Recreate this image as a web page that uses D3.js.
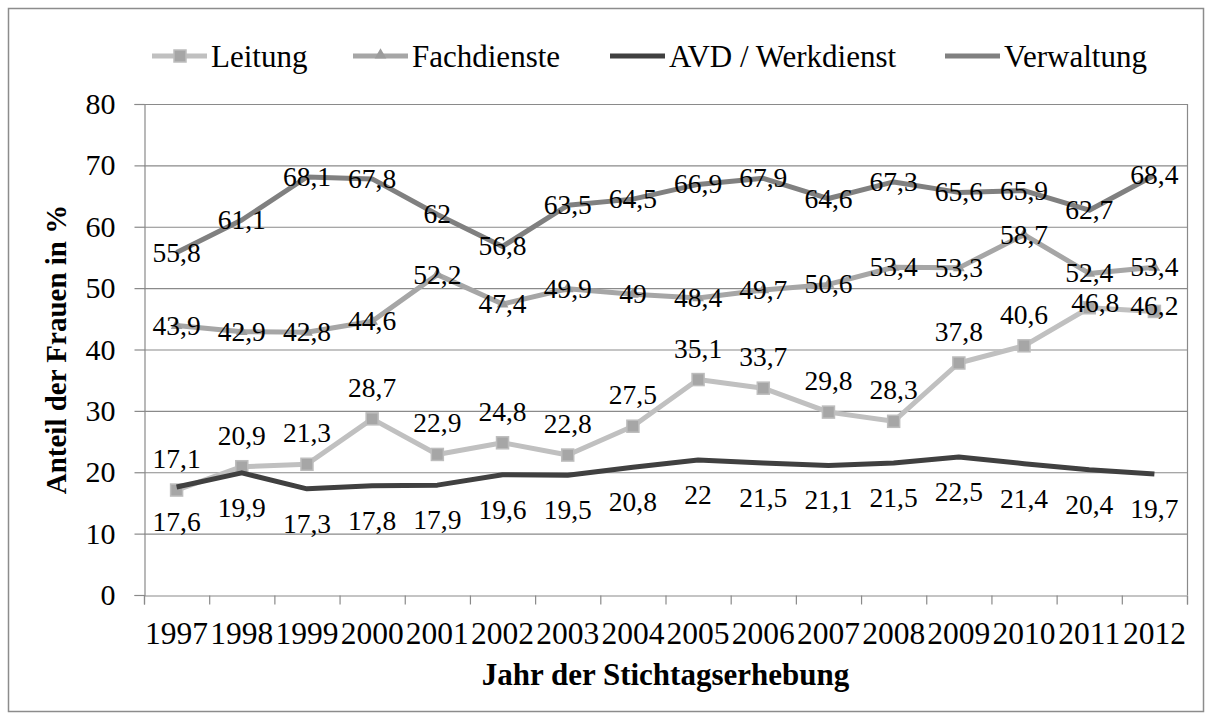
<!DOCTYPE html>
<html>
<head>
<meta charset="utf-8">
<script src="https://cdn.jsdelivr.net/npm/d3@7"></script>
<style>
  body { margin: 0; background: #fff; }
  svg text { font-family: "Times New Roman", "Liberation Serif", Tinos, "DejaVu Serif", serif !important; }
</style>
</head>
<body>
<svg id="chart" width="1212" height="720"></svg>
<script>
// data
var years = ["1997", "1998", "1999", "2000", "2001", "2002", "2003", "2004",
             "2005", "2006", "2007", "2008", "2009", "2010", "2011", "2012"]
var leitung = [17.1, 20.9, 21.3, 28.7, 22.9, 24.8, 22.8, 27.5, 35.1, 33.7, 29.8, 28.3, 37.8, 40.6, 46.8, 46.2]
var fachdienste = [43.9, 42.9, 42.8, 44.6, 52.2, 47.4, 49.9, 49, 48.4, 49.7, 50.6, 53.4, 53.3, 58.7, 52.4, 53.4]
var avd = [17.6, 19.9, 17.3, 17.8, 17.9, 19.6, 19.5, 20.8, 22, 21.5, 21.1, 21.5, 22.5, 21.4, 20.4, 19.7]
var verwaltung = [55.8, 61.1, 68.1, 67.8, 62, 56.8, 63.5, 64.5, 66.9, 67.9, 64.6, 67.3, 65.6, 65.9, 62.7, 68.4]
var yTicks = [0, 10, 20, 30, 40, 50, 60, 70, 80]

var series = [
    {name: "Leitung", values: leitung, color: "#c0c0c0", marker: "square", label: "above"},
    {name: "Fachdienste", values: fachdienste, color: "#a6a6a6", marker: "triangle", label: "center"},
    {name: "AVD / Werkdienst", values: avd, color: "#404040", marker: null, label: "below"},
    {name: "Verwaltung", values: verwaltung, color: "#808080", marker: null, label: "center"}
]

var svg = d3.select("#chart"),
    plot = {left: 144, right: 1187, top: 104, bottom: 595}

svg.append("rect")
    .attr("x", 8.5).attr("y", 8.5)
    .attr("width", 1195).attr("height", 703)
    .attr("fill", "#fff")
    .attr("stroke", "#8c8c8c")
    .attr("stroke-width", 1.5)

var x = d3.scaleBand().domain(years).range([plot.left, plot.right])
var xEdge = d3.scaleLinear().domain([0, years.length]).range([plot.left, plot.right])
var y = d3.scaleLinear().domain([0, 80]).range([plot.bottom, plot.top])
var cx = function (i) { return x(years[i]) + x.bandwidth() / 2 }

// grid
svg.append("g")
    .selectAll("line")
    .data(yTicks.filter(function (d) { return d > 0 }))
    .enter().append("line")
    .attr("x1", plot.left).attr("x2", plot.right)
    .attr("y1", function (d) { return y(d) + 0.5 })
    .attr("y2", function (d) { return y(d) + 0.5 })
    .attr("stroke", "#8a8a8a")
    .attr("stroke-width", 1.2)

svg.append("line")
    .attr("x1", plot.right + 0.5).attr("x2", plot.right + 0.5)
    .attr("y1", plot.top).attr("y2", plot.bottom)
    .attr("stroke", "#8a8a8a")
    .attr("stroke-width", 1.2)

// y axis
var yAxis = svg.append("g")
    .attr("transform", "translate(" + (plot.left + 0.5) + ",0)")
    .call(d3.axisLeft(y).tickValues(yTicks).tickSize(10).tickPadding(19))
yAxis.selectAll("text")
    .attr("font-size", 30)
    .attr("fill", "#000")

// x axis: tick marks between categories, labels centred
svg.append("g")
    .attr("transform", "translate(0," + (plot.bottom + 0.5) + ")")
    .call(d3.axisBottom(xEdge).tickValues(d3.range(years.length + 1)).tickSize(9).tickFormat(""))
var xLabelAxis = svg.append("g")
    .attr("transform", "translate(0," + (plot.bottom + 0.5) + ")")
    .call(d3.axisBottom(x).tickSize(0).tickPadding(26))
xLabelAxis.select(".domain").remove()
xLabelAxis.selectAll("text")
    .attr("font-size", 31.5)
    .attr("fill", "#000")

svg.selectAll(".domain, .tick line")
    .attr("stroke", "#8a8a8a")
    .attr("stroke-width", 1.2)

// lines
var line = d3.line()
    .x(function (d, i) { return cx(i) })
    .y(function (d) { return y(d) })

var triangle = d3.symbol().type(d3.symbolTriangle).size(60)

series.forEach(function (s) {
    svg.append("path")
        .attr("d", line(s.values))
        .attr("fill", "none")
        .attr("stroke", s.color)
        .attr("stroke-width", 5)
        .attr("stroke-linejoin", "round")
    if (s.marker == "square") {
        svg.append("g").selectAll("rect")
            .data(s.values)
            .enter().append("rect")
            .attr("x", function (d, i) { return cx(i) - 6 })
            .attr("y", function (d) { return y(d) - 6 })
            .attr("width", 12).attr("height", 12)
            .attr("fill", "#a6a6a6")
            .attr("stroke", "#bdbdbd")
            .attr("stroke-width", 1.5)
    }
    if (s.marker == "triangle") {
        svg.append("g").selectAll("path")
            .data(s.values)
            .enter().append("path")
            .attr("d", triangle)
            .attr("transform", function (d, i) {
                return "translate(" + cx(i) + "," + y(d) + ")"
            })
            .attr("fill", "#9c9c9c")
    }
})

// data labels
var fmt = function (v) { return String(v).replace(".", ",") }
series.forEach(function (s) {
    var last = years.length - 1
    svg.append("g").selectAll("text")
        .data(s.values)
        .enter().append("text")
        .attr("x", function (d, i) {
            // last two Leitung labels sit on the points in the original
            if (s.label == "above" && i == last - 1) return cx(i) + 6
            return cx(i)
        })
        .attr("y", function (d, i) {
            if (s.label == "above" && i >= last - 1) return y(d) + 4
            if (s.label == "above") return y(d) - 22
            if (s.label == "below") return y(d) + 44
            return y(d) + 9
        })
        .attr("text-anchor", "middle")
        .attr("font-size", 27.5)
        .attr("fill", "#000")
        .text(fmt)
})

// legend
var legendX = [152, 353, 610, 945]
var legend = svg.append("g")
series.forEach(function (s, i) {
    var g = legend.append("g").attr("transform", "translate(" + legendX[i] + ",56)")
    g.append("line")
        .attr("x1", 0).attr("x2", 55)
        .attr("stroke", s.color)
        .attr("stroke-width", 5)
    if (s.marker == "square") {
        g.append("rect")
            .attr("x", 22).attr("y", -6)
            .attr("width", 12).attr("height", 12)
            .attr("fill", "#a6a6a6")
            .attr("stroke", "#bdbdbd")
            .attr("stroke-width", 1.5)
    }
    if (s.marker == "triangle") {
        g.append("path")
            .attr("d", triangle)
            .attr("transform", "translate(27.5,-1)")
            .attr("fill", "#9c9c9c")
    }
    g.append("text")
        .attr("x", 59).attr("y", 11)
        .attr("font-size", 31)
        .attr("fill", "#000")
        .text(s.name)
})

// axis titles
svg.append("text")
    .attr("x", (plot.left + plot.right) / 2)
    .attr("y", 685)
    .attr("text-anchor", "middle")
    .attr("font-size", 31)
    .attr("font-weight", "bold")
    .text("Jahr der Stichtagserhebung")

svg.append("text")
    .attr("transform", "translate(66," + (plot.top + plot.bottom) / 2 + ") rotate(-90)")
    .attr("text-anchor", "middle")
    .attr("font-size", 29)
    .attr("font-weight", "bold")
    .text("Anteil der Frauen in %")
</script>
</body>
</html>
